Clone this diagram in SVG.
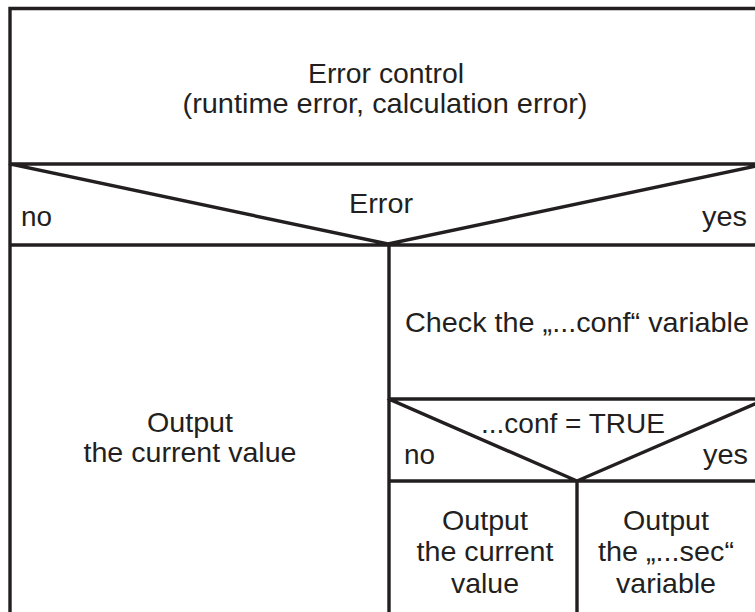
<svg xmlns="http://www.w3.org/2000/svg" width="755" height="612" viewBox="0 0 755 612">
<style>
.ln{stroke:#231f20;stroke-width:3.4;fill:none;stroke-linecap:square}
text{font-family:"Liberation Sans",Arial,sans-serif;font-size:27.5px;fill:#231f20}
.c{text-anchor:middle}
</style>
<rect width="755" height="612" fill="#ffffff"/>
<g id="connectors">
<path class="ln" d="M10,8.5 H770 M10,8.5 V612 M10,164 H770 M10,164 L388,244 L766,164 M10,245 H770 M389,245 V612 M389,399 H770 M389,399 L577,481 L766,399 M389,481 H770 M577,481 V612"/>
</g>
<g id="error-control">
<text class="c" x="386" y="83" textLength="156" lengthAdjust="spacingAndGlyphs">Error control</text>
<text class="c" x="385" y="113" textLength="405" lengthAdjust="spacingAndGlyphs">(runtime error, calculation error)</text>
</g>
<g id="decision-error">
<text class="c" x="381" y="213" textLength="64" lengthAdjust="spacingAndGlyphs">Error</text>
<text x="21" y="226" textLength="31" lengthAdjust="spacingAndGlyphs">no</text>
<text x="747" y="226" text-anchor="end" textLength="45" lengthAdjust="spacingAndGlyphs">yes</text>
</g>
<g id="output-current-left">
<text class="c" x="190" y="432" textLength="86" lengthAdjust="spacingAndGlyphs">Output</text>
<text class="c" x="190" y="462" textLength="213" lengthAdjust="spacingAndGlyphs">the current value</text>
</g>
<g id="check-conf">
<text class="c" x="577" y="332" textLength="344" lengthAdjust="spacingAndGlyphs">Check the „...conf“ variable</text>
</g>
<g id="decision-conf">
<text class="c" x="573" y="433" textLength="184" lengthAdjust="spacingAndGlyphs">...conf = TRUE</text>
<text x="404" y="464" textLength="31" lengthAdjust="spacingAndGlyphs">no</text>
<text x="748" y="464" text-anchor="end" textLength="45" lengthAdjust="spacingAndGlyphs">yes</text>
</g>
<g id="output-current-right">
<text class="c" x="485" y="530" textLength="86" lengthAdjust="spacingAndGlyphs">Output</text>
<text class="c" x="485" y="561" textLength="137" lengthAdjust="spacingAndGlyphs">the current</text>
<text class="c" x="485" y="593" textLength="68" lengthAdjust="spacingAndGlyphs">value</text>
</g>
<g id="output-sec">
<text class="c" x="666" y="530" textLength="86" lengthAdjust="spacingAndGlyphs">Output</text>
<text class="c" x="666" y="561" textLength="136" lengthAdjust="spacingAndGlyphs">the „...sec“</text>
<text class="c" x="666" y="593" textLength="100" lengthAdjust="spacingAndGlyphs">variable</text>
</g>
</svg>
